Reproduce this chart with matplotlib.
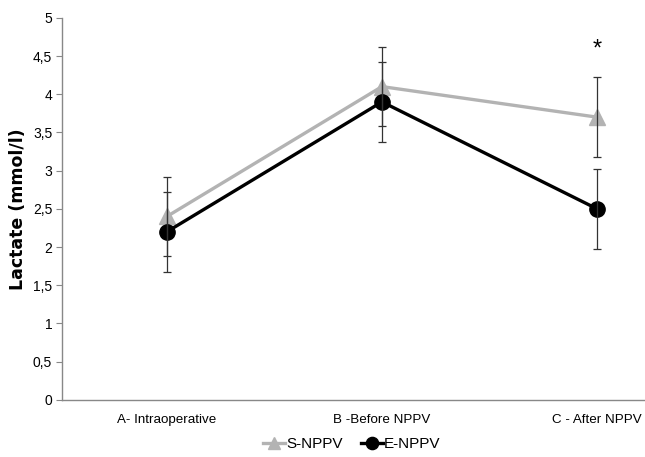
import numpy as np
import matplotlib.pyplot as plt

plt.rcParams['font.family'] = ['Liberation Sans', 'DejaVu Sans']

# data
categories = ["A- Intraoperative", "B -Before NPPV", "C - After NPPV"]
s_nppv = [2.4, 4.1, 3.7]
s_err = [0.52, 0.52, 0.52]
e_nppv = [2.2, 3.9, 2.5]
e_err = [0.52, 0.52, 0.52]
yticks = [0, 0.5, 1, 1.5, 2, 2.5, 3, 3.5, 4, 4.5, 5]
ytick_labels = ["0", "0,5", "1", "1,5", "2", "2,5", "3", "3,5", "4", "4,5", "5"]

fig = plt.figure(figsize=(6.45, 4.57), dpi=100)
ax = fig.add_axes([0.096, 0.125, 0.904, 0.836])

x = np.arange(len(categories))

# lines and markers
ax.plot(x, s_nppv, color='#b3b3b3', lw=2.4, marker='^', ms=11, label='S-NPPV', zorder=3)
ax.plot(x, e_nppv, color='black', lw=2.4, marker='o', ms=11, label='E-NPPV', zorder=4)

# error bars
ax.errorbar(x, s_nppv, yerr=s_err, fmt='none', ecolor='#333333', elinewidth=0.9, capsize=3, capthick=0.9, zorder=5)
ax.errorbar(x, e_nppv, yerr=e_err, fmt='none', ecolor='#333333', elinewidth=0.9, capsize=3, capthick=0.9, zorder=5)

# significance marker
ax.text(x[2], s_nppv[2] + s_err[2] + 0.36, '*', ha='center', va='center', fontsize=17)

ax.set_xlim(-0.488, 2.223)
ax.set_ylim(0, 5)
ax.set_xticks(x)
ax.set_xticklabels(categories, fontsize=9.6)
ax.set_yticks(yticks)
ax.set_yticklabels(ytick_labels, fontsize=10)
ax.tick_params(axis='x', length=0, pad=10)
ax.tick_params(axis='y', length=4, width=0.8, color='#888888', pad=3)
ax.set_ylabel('Lactate (mmol/l)', fontsize=12.5, fontweight='bold', labelpad=4,
              family=['DejaVu Sans'])

for side in ['top', 'right']:
    ax.spines[side].set_visible(False)
for side in ['left', 'bottom']:
    ax.spines[side].set_color('#888888')
    ax.spines[side].set_linewidth(1.0)

fig.legend(loc='center', bbox_to_anchor=(352 / 645, 1 - 444 / 457), ncol=2, frameon=False,
           fontsize=11, handlelength=1.4, handletextpad=0.1, columnspacing=1.2,
           markerscale=0.8, borderpad=0)

fig.savefig('out.png', dpi=100)
